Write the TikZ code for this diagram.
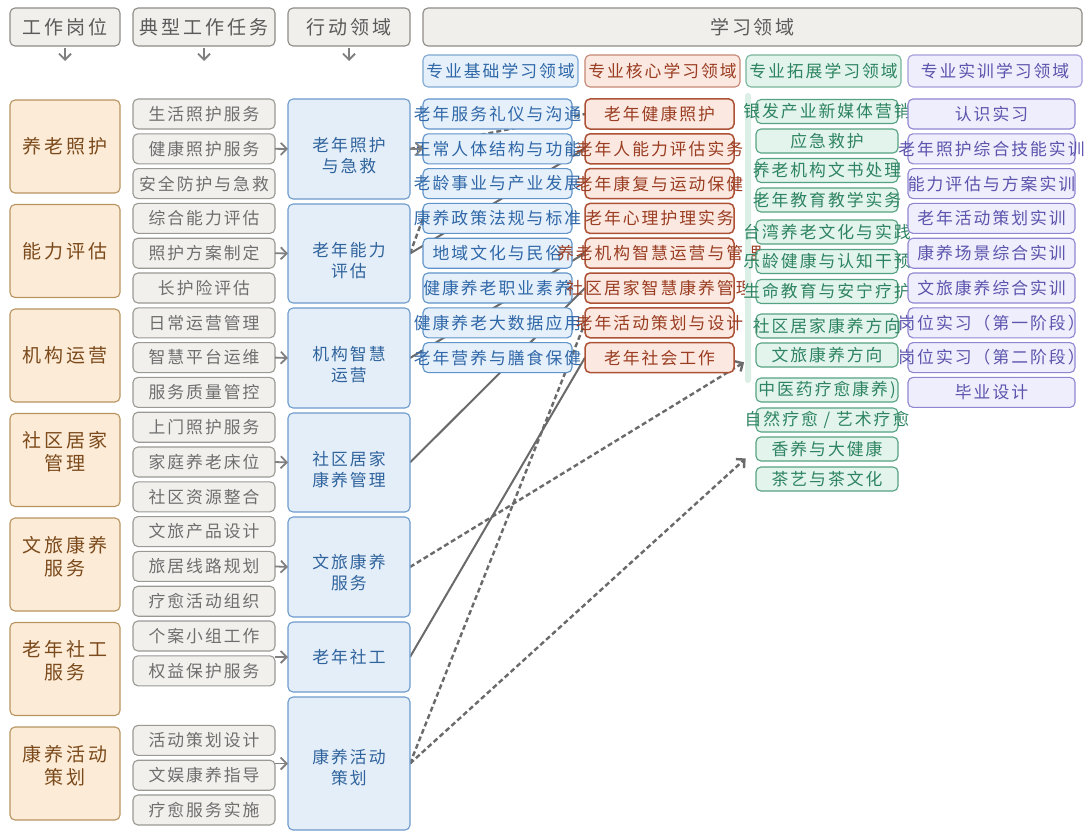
\documentclass[tikz,border=0pt]{standalone}
\usepackage{fontspec}
\newfontfamily\cjk{Noto Sans CJK SC}[LetterSpace=12]
\newfontfamily\cjkh{Noto Sans CJK SC}[LetterSpace=15]
\newcommand\fsT{\cjk\fontsize{16.8}{21}\selectfont}
\newcommand\fsH{\cjkh\fontsize{19}{23}\selectfont}
\usetikzlibrary{arrows.meta}
\pgfdeclarelayer{back}
\pgfdeclarelayer{bg}
\pgfsetlayers{back,bg,main}
\definecolor{hdrF}{HTML}{F1EFEB}\definecolor{hdrD}{HTML}{8F8B86}\definecolor{hdrT}{HTML}{5A5A5A}
\definecolor{jobF}{HTML}{FCEBD6}\definecolor{jobD}{HTML}{B89460}\definecolor{jobT}{HTML}{7B4A1C}
\definecolor{tskF}{HTML}{F1F0ED}\definecolor{tskD}{HTML}{9B9994}\definecolor{tskT}{HTML}{6E6E6E}
\definecolor{actF}{HTML}{E4EEF9}\definecolor{actD}{HTML}{6D9BCC}\definecolor{actT}{HTML}{2F639C}
\definecolor{baF}{HTML}{E5F0FA}\definecolor{baD}{HTML}{5F93C9}\definecolor{baT}{HTML}{2F67A8}
\definecolor{coF}{HTML}{FBE8E0}\definecolor{coD}{HTML}{AD5236}\definecolor{coT}{HTML}{9A3D22}
\definecolor{exF}{HTML}{E2F4EC}\definecolor{exD}{HTML}{55A282}\definecolor{exT}{HTML}{2E8462}
\definecolor{prF}{HTML}{EFEEFC}\definecolor{prD}{HTML}{8F86D2}\definecolor{prT}{HTML}{5C54AD}
\definecolor{stripC}{HTML}{DCEFE6}\definecolor{lnC}{HTML}{6A6A6A}
\tikzset{
 bx/.style={rounded corners=5pt, line width=1.1pt, inner sep=0pt, outer sep=0pt},
 hdr/.style={bx, draw=hdrD, fill=hdrF, text=hdrT, font=\fsH, minimum height=38pt},
 job/.style={bx, draw=jobD, fill=jobF, minimum width=110pt, minimum height=93pt},
 jobtxt/.style={text=jobT, font=\fsH, align=center, inner sep=0pt},
 task/.style={bx, draw=tskD, fill=tskF, text=tskT, font=\fsT, minimum width=142pt, minimum height=30pt},
 act/.style={bx, draw=actD, fill=actF, minimum width=122pt},
 acttxt/.style={text=actT, font=\fsT, align=center, inner sep=0pt},
 sub/.style={bx, font=\fsT, minimum height=32pt},
 cba/.style={bx, draw=baD, fill=baF, text=baT, font=\fsT, minimum width=149pt, minimum height=30pt},
 cco/.style={bx, line width=1.5pt, draw=coD, fill=coF, text=coT, font=\fsT, minimum width=149pt, minimum height=30pt},
 cex/.style={bx, draw=exD, fill=exF, text=exT, font=\fsT, minimum width=142pt, minimum height=24pt},
 cpr/.style={bx, draw=prD, fill=prF, text=prT, font=\fsT, minimum width=167pt, minimum height=30pt},
 ln/.style={draw=lnC, line width=2pt},
 dln/.style={ln, line width=2.4pt, dash pattern=on 5pt off 3pt},
 tip/.style={-{Straight Barb[length=6pt,width=12pt]}},
 sarr/.style={draw=lnC!85, line width=1.8pt, tip},
}
\begin{document}
\begin{tikzpicture}[x=1pt,y=-1pt]
\begin{pgfonlayer}{back}
\path[use as bounding box, fill=white] (0,0) rectangle (1091,832);
\end{pgfonlayer}
% headers
\node[hdr, minimum width=110pt] (h1) at (65,27) {工作岗位};
\node[hdr, minimum width=142pt] (h2) at (204,27) {典型工作任务};
\node[hdr, minimum width=122pt] (h3) at (349,27) {行动领域};
\node[hdr, minimum width=659pt] (h4) at (752.5,27) {学习领域};
\coordinate (d1) at (65,61);
\coordinate (d2) at (204,61);
\coordinate (d3) at (349,61);
% sub headers
\node[sub, draw=baD!80, fill=baF, text=baT, minimum width=155pt] (s1) at (500.5,71) {\makebox[0pt]{专业基础学习领域}};
\node[sub, draw=coD!70, fill=coF, text=coT, minimum width=155pt] (s2) at (662.5,71) {\makebox[0pt]{专业核心学习领域}};
\node[sub, draw=exD!80, fill=exF, text=exT, minimum width=155pt] (s3) at (823.5,71) {\makebox[0pt]{专业拓展学习领域}};
\node[sub, draw=prD!80, fill=prF, text=prT, minimum width=174pt] (s4) at (995,71) {\makebox[0pt]{专业实训学习领域}};
% jobs
\foreach \n/\y in {j1/146.5,j2/251,j3/355.5,j4/460,j5/564.5,j6/669,j7/773.5}
  \node[job] (\n) at (65,\y) {};
\node[jobtxt] at (j1.center) {养老照护};
\node[jobtxt] at (j2.center) {能力评估};
\node[jobtxt] at (j3.center) {机构运营};
\node[jobtxt] at ([yshift=8pt]j4.center) {社区居家\\管理};
\node[jobtxt] at ([yshift=8pt]j5.center) {文旅康养\\服务};
\node[jobtxt] at ([yshift=8pt]j6.center) {老年社工\\服务};
\node[jobtxt] at ([yshift=8pt]j7.center) {康养活动\\策划};
% tasks
\foreach \n/\y/\t in {t0/114/生活照护服务, t1/148.8/健康照护服务, t2/183.6/安全防护与急救,
  t3/218.4/综合能力评估, t4/253.2/照护方案制定, t5/288/长护险评估,
  t6/322.8/日常运营管理, t7/357.6/智慧平台运维, t8/392.4/服务质量管控,
  t9/427.2/上门照护服务, t10/462/家庭养老床位, t11/496.8/社区资源整合,
  t12/531.6/文旅产品设计, t13/566.4/旅居线路规划, t14/601.2/疗愈活动组织,
  t15/636/个案小组工作, t16/670.8/权益保护服务,
  t18/740.4/活动策划设计, t19/775.2/文娱康养指导, t20/810/疗愈服务实施}
  \node[task] (\n) at (204,\y) {\makebox[0pt]{\t}};
% action fields
\node[act, minimum height=100pt] (a1) at (349,149) {};
\node[act, minimum height=99pt] (a2) at (349,253.5) {};
\node[act, minimum height=100pt] (a3) at (349,358) {};
\node[act, minimum height=99pt] (a4) at (349,462.5) {};
\node[act, minimum height=100pt] (a5) at (349,567) {};
\node[act, minimum height=70pt] (a6) at (349,657) {};
\node[act, minimum height=133pt] (a7) at (349,763.5) {};
\node[acttxt] at ([yshift=-7pt]a1.center) {老年照护\\与急救};
\node[acttxt] at ([yshift=-7pt]a2.center) {老年能力\\评估};
\node[acttxt] at ([yshift=-7pt]a3.center) {机构智慧\\运营};
\node[acttxt] at ([yshift=-7pt]a4.center) {社区居家\\康养管理};
\node[acttxt] at ([yshift=-6pt]a5.center) {文旅康养\\服务};
\node[acttxt] at (a6.center) {老年社工};
\node[acttxt] at ([yshift=-4pt]a7.center) {康养活动\\策划};
% basic courses
\foreach \n/\y/\t in {b0/114/老年服务礼仪与沟通, b1/148.8/正常人体结构与功能, b2/183.6/老龄事业与产业发展,
  b3/218.4/康养政策法规与标准, b4/253.2/地域文化与民俗, b5/288/健康养老职业素养,
  b6/322.8/健康养老大数据应用, b7/357.6/老年营养与膳食保健}
  \node[cba] (\n) at (497.5,\y) {\makebox[0pt]{\t}};
% core courses
\foreach \n/\y/\t in {c0/114/老年健康照护, c1/148.8/老年人能力评估实务, c2/183.6/老年康复与运动保健,
  c3/218.4/老年心理护理实务, c4/253.2/养老机构智慧运营与管理, c5/288/社区居家智慧康养管理,
  c6/322.8/老年活动策划与设计, c7/357.6/老年社会工作}
  \node[cco] (\n) at (659.5,\y) {\makebox[0pt]{\t}};
% extension strip
\fill[stripC, rounded corners=3pt] (745,93) rectangle (751,383);
% extension courses
\foreach \n/\y/\t in {g0/111.5/银发产业新媒体营销, g1/141/应急救护, g2/170.5/养老机构文书处理,
  g3/200/老年教育教学实务, g4/232/台湾养老文化与实践, g5/261.5/乐龄健康与认知干预,
  g6/291.5/生命教育与安宁疗护, g7/326/社区居家康养方向, g8/355/文旅康养方向,
  g9/390/中医药疗愈康养), g10/420/{自然疗愈 / 艺术疗愈}, g11/449/香养与大健康, g12/479/茶艺与茶文化}
  \node[cex] (\n) at (827,\y) {\makebox[0pt]{\t}};
% practical training
\foreach \n/\y/\t in {p0/114/认识实习, p1/148.8/老年照护综合技能实训, p2/183.6/能力评估与方案实训,
  p3/218.4/老年活动策划实训, p4/253.2/康养场景综合实训, p5/288/文旅康养综合实训,
  p6/322.8/岗位实习（第一阶段）, p7/357.6/岗位实习（第二阶段）, p8/392.4/毕业设计}
  \node[cpr] (\n) at (991.5,\y) {\makebox[0pt]{\t}};
% connectors behind boxes
\begin{pgfonlayer}{bg}
\draw[dln] (a1.east) -- (c0.west);
\draw[dln] (a2.east) -- (b3.west);
\draw[ln] (a2.east) -- (c1.west);
\draw[ln] (a3.east) -- (c4.west);
\draw[ln] (a4.east) -- (c5.west);
\draw[ln] (a6.east) -- (c7.west);
\draw[dln] (a7.east) -- (c6.west);
\draw[dln, tip, shorten >=14pt] (a5.east) -- (g8.west);
\draw[dln, tip, shorten >=14pt] (a7.east) -- (g11.west);
\end{pgfonlayer}
% short arrows on top
\draw[sarr] (t1.east) -- (a1.west);
\draw[sarr] (t4.east) -- (a2.west);
\draw[sarr] (t7.east) -- (a3.west);
\draw[sarr] (t10.east) -- (a4.west);
\draw[sarr] (t13.east) -- (a5.west);
\draw[sarr] (t15.east |- a6.west) -- (a6.west);
\draw[sarr] (t19.east |- a7.west) -- (a7.west);
\draw[sarr] (a1.east) -- (b1.west);
\draw[sarr, shorten <=2pt] (h1.south) -- (d1);
\draw[sarr, shorten <=2pt] (h2.south) -- (d2);
\draw[sarr, shorten <=2pt] (h3.south) -- (d3);
\end{tikzpicture}
\end{document}
